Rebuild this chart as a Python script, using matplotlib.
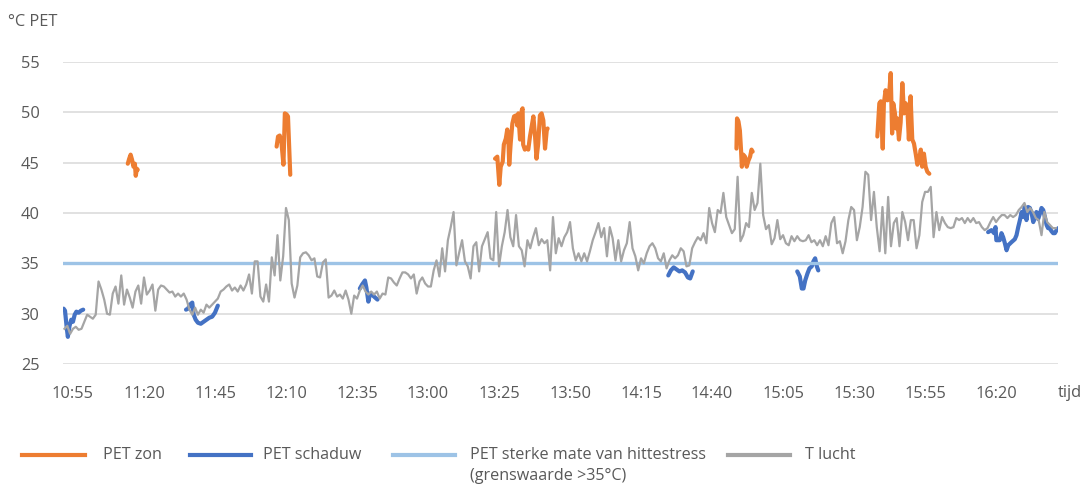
import numpy as np
import matplotlib
matplotlib.use('Agg')
import matplotlib.pyplot as plt
from matplotlib.lines import Line2D

plt.rcParams['font.family'] = ['Open Sans', 'DejaVu Sans']

# tijd in minuten na 10:55
tijd_labels = ['10:55', '11:20', '11:45', '12:10', '12:35', '13:00', '13:25',
               '13:50', '14:15', '14:40', '15:05', '15:30', '15:55', '16:20']
tijd_ticks = [0, 25, 50, 75, 100, 125, 150, 175, 200, 225, 250, 275, 300, 325]

grenswaarde = 35

# T lucht, een waarde per minuut vanaf 10:52
t_lucht = [
    28.5, 28.8, 28.0, 28.5, 28.7, 28.4, 28.5, 29.2, 29.9, 29.7, 29.5, 29.9, 33.2,
    32.4, 31.4, 30.0, 29.9, 32.0, 32.7, 31.0, 33.8, 30.9, 32.4,
    31.6, 30.6, 32.2, 32.8, 31.0, 33.6, 31.9, 32.3, 32.9, 30.3,
    32.4, 32.8, 32.7, 32.4, 32.1, 32.2, 31.7, 32.0, 31.7, 32.0,
    31.4, 30.4, 29.9, 30.6, 29.9, 30.4, 30.1, 30.9, 30.6, 30.9,
    31.2, 31.5, 32.2, 32.4, 32.7, 32.9, 32.3, 32.6, 32.2, 32.8,
    32.3, 32.9, 33.9, 32.0, 35.2, 35.2, 31.7, 31.2, 32.9, 31.2,
    35.6, 33.8, 37.8, 33.3, 35.7, 40.5, 39.3, 33.0, 31.6, 32.8,
    35.6, 36.0, 36.1, 35.8, 35.3, 35.5, 33.7, 33.6, 35.1, 35.4,
    31.6, 31.8, 32.3, 31.7, 31.9, 31.5, 32.3, 31.4, 30.0, 31.8,
    31.5, 32.3, 32.8, 32.2, 31.9, 32.2, 31.9, 32.2, 31.5, 32.0,
    31.9, 33.6, 33.5, 33.1, 32.8, 33.5, 34.1, 34.1, 33.9, 33.5,
    33.9, 32.0, 33.2, 33.6, 33.0, 32.7, 32.7, 34.3, 35.3, 33.7,
    36.5, 34.2, 37.3, 38.6, 40.1, 34.8, 36.1, 37.3, 35.2, 34.7,
    33.5, 36.7, 37.1, 34.2, 36.7, 37.4, 38.1, 35.5, 35.3, 40.1,
    34.7, 36.7, 38.1, 40.3, 37.6, 36.7, 39.8, 36.7, 36.3, 34.7,
    37.3, 36.5, 37.6, 38.5, 36.8, 37.4, 37.0, 37.3, 34.3, 39.6,
    36.0, 37.5, 36.7, 37.6, 38.1, 39.1, 36.5, 35.3, 36.0, 35.2,
    36.0, 35.2, 36.2, 37.3, 38.1, 39.0, 37.6, 38.5, 35.7, 38.6,
    37.5, 35.3, 37.3, 35.2, 36.3, 37.0, 39.1, 36.5, 35.7, 34.3,
    35.5, 35.0, 36.0, 36.7, 37.0, 36.5, 35.5, 35.2, 36.0, 34.5,
    35.3, 35.8, 35.5, 35.8, 36.5, 36.2, 34.7, 34.8, 36.5, 37.1,
    37.6, 37.3, 38.0, 37.0, 40.5, 39.0, 38.1, 40.3, 40.0, 42.0,
    39.6, 38.8, 38.0, 38.4, 43.6, 37.2, 37.8, 39.0, 38.6, 42.0,
    40.3, 41.0, 44.9, 39.8, 38.4, 38.8, 36.9, 37.5, 39.3, 37.4,
    37.8, 37.0, 36.8, 37.7, 37.2, 37.7, 37.3, 37.2, 37.3, 37.8,
    37.1, 37.3, 36.8, 37.3, 36.7, 37.7, 36.8, 39.0, 39.6, 37.0,
    37.2, 36.0, 37.2, 39.3, 40.6, 40.3, 37.3, 38.6, 40.6, 44.1,
    43.8, 39.3, 42.1, 38.6, 36.2, 40.6, 36.0, 41.6,
    36.7, 39.0, 39.5, 36.7, 40.1, 39.1, 37.3, 39.3, 39.3, 36.5, 37.8, 41.1,
    42.1, 42.1, 42.6, 37.6, 40.1, 38.3, 39.6, 39.0, 38.6, 38.5,
    38.6, 39.5, 39.3, 39.5, 39.0, 39.5, 39.1, 39.5, 39.0, 39.1,
    38.6, 38.3, 38.5, 39.1, 39.6, 39.1, 39.5, 39.8, 39.8, 39.5,
    39.8, 39.6, 39.8, 40.3, 40.6, 41.0, 40.1, 40.5, 40.1, 39.5,
    39.3, 37.8, 40.1, 39.1, 38.8, 38.5, 38.5,
]
t_lucht_tijd = np.arange(-3, -3 + len(t_lucht))

# PET zon, losse metingen (tijd in minuten na 10:55)
pet_zon_tijd = [
    [19.3, 19.8, 20.3, 20.8, 21.3, 21.8, 22.1, 22.5, 22.8],
    [71.7, 72.2, 72.8, 73.4, 74.1, 74.6, 75.2, 75.7, 76.5],
    [148.6, 149.4, 150.1, 150.6, 151.3, 151.7, 152.4, 152.9, 153.3, 153.6, 154.1,
     154.7, 155.3, 156.0, 156.4, 156.8, 157.4, 158.0, 158.3, 158.5, 159.1, 159.7,
     160.3, 160.9, 161.5, 162.1, 162.7, 163.2, 163.8, 164.4, 165.0, 165.6, 166.2,
     166.8, 167.1],
    [233.6, 233.8, 234.3, 234.8, 235.2, 235.5, 236.0, 236.6, 237.2, 237.8, 238.4,
     238.9, 239.3],
    [283.2, 283.9, 284.4, 285.1, 285.5, 286.1, 286.8, 287.4, 287.9, 288.4, 288.8,
     289.4, 289.8, 290.2, 290.8, 291.4, 292.0, 292.6, 293.2, 293.8, 294.3, 294.9,
     295.5, 296.1, 296.7, 297.3, 297.9, 298.5, 299.0, 299.6, 300.2, 300.8, 301.5],
]
pet_zon = [
    [44.9, 45.4, 45.8, 45.3, 44.6, 44.9, 43.7, 44.4, 44.3],
    [46.6, 47.6, 47.7, 47.0, 44.8, 49.9, 49.8, 49.6, 43.8],
    [45.4, 45.6, 42.8, 44.6, 45.1, 46.8, 47.4, 48.3, 47.3, 44.8, 46.9,
     48.9, 49.6, 49.7, 48.7, 49.9, 47.3, 50.2, 50.4, 46.8, 46.3, 46.5,
     46.3, 47.6, 48.6, 49.6, 47.6, 45.4, 46.9, 49.7, 49.9, 49.2, 46.4,
     48.2, 48.4],
    [46.4, 49.4, 49.1, 48.2, 46.3, 44.6, 45.8, 45.6, 44.6, 45.2, 45.6,
     46.3, 46.1],
    [47.6, 50.9, 51.1, 46.4, 50.9, 52.2, 51.2, 52.0, 53.9, 47.9, 50.9,
     49.9, 48.4, 49.4, 47.3, 49.0, 52.9, 49.9, 50.9, 50.2, 47.3, 51.6,
     47.3, 46.9, 45.9, 44.8, 45.3, 46.3, 44.6, 45.9, 44.6, 44.1, 43.9],
]

# PET schaduw
pet_schaduw_tijd = [
    [-3.3, -2.8, -2.2, -1.8, -1.2, -0.6, 0.0, 0.6, 1.2, 2.0, 2.8, 3.6],
    [39.8, 40.5, 41.2, 42.0, 42.5, 43.2, 44.0, 45.0, 46.0, 47.0, 48.0, 49.0, 50.0, 51.0],
    [101.0, 101.8, 102.8, 103.3, 104.0, 104.6, 105.2, 106.0, 107.2],
    [209.6, 210.5, 211.5, 212.5, 213.5, 214.5, 215.5, 216.5, 217.3, 218.2],
    [255.0, 255.9, 256.6, 257.2, 257.8, 258.6, 259.3, 260.1, 260.7, 261.3, 261.9, 262.4],
    [322.2, 323.4, 324.3, 324.8, 325.1, 326.3, 326.9, 327.5, 328.1, 328.7, 329.3,
     330.4, 331.6, 332.2, 332.8, 333.4, 334.0, 334.5, 335.1, 335.7, 336.3, 336.9,
     337.5, 338.1, 338.6, 339.2, 339.8, 340.4, 341.0, 341.6, 342.2, 342.8, 343.3,
     343.9, 344.5, 345.1, 345.7, 346.3, 346.9],
]
pet_schaduw = [
    [30.5, 30.3, 28.6, 27.7, 28.8, 29.4, 29.2, 29.9, 30.2, 30.1, 30.3, 30.4],
    [30.4, 30.5, 30.9, 31.1, 29.9, 29.4, 29.1, 29.0, 29.2, 29.4, 29.6, 29.7, 30.1, 30.8],
    [32.5, 32.9, 33.3, 32.6, 31.2, 32.0, 31.9, 31.7, 31.4],
    [33.8, 34.3, 34.6, 34.4, 34.2, 34.3, 34.1, 33.6, 33.5, 34.2],
    [34.2, 33.7, 32.5, 32.5, 33.3, 34.0, 34.5, 34.7, 35.2, 35.5, 34.7, 34.3],
    [38.1, 38.3, 38.0, 38.6, 37.3, 37.3, 38.0, 37.6, 37.0, 36.3, 36.8,
     37.1, 37.4, 37.8, 38.6, 39.3, 40.1, 39.6, 40.6, 39.3, 40.6, 40.5,
     40.0, 39.1, 39.6, 40.1, 39.4, 39.9, 40.5, 40.3, 39.6, 38.8, 38.5,
     38.5, 38.2, 38.0, 38.0, 38.3, 38.5],
]

ORANJE = '#ED7D31'
BLAUW = '#4472C4'
LICHTBLAUW = '#9DC3E6'
GRIJS = '#A5A5A5'
TEKST = '#595959'


def teken_grafiek():
    fig = plt.figure(figsize=(10.83, 4.90), dpi=100)
    ax = fig.add_axes([0.0582, 0.2571, 0.9187, 0.6163])

    for tt, vv in zip(pet_zon_tijd, pet_zon):
        ax.plot(tt, vv, color=ORANJE, lw=3.0, solid_capstyle='round', zorder=3)
    for tt, vv in zip(pet_schaduw_tijd, pet_schaduw):
        ax.plot(tt, vv, color=BLAUW, lw=3.0, solid_capstyle='round', zorder=4)
    ax.axhline(grenswaarde, color=LICHTBLAUW, lw=2.4, zorder=5)
    ax.plot(t_lucht_tijd, t_lucht, color=GRIJS, lw=1.6, zorder=6)

    ax.set_xlim(-3.5, 346.8)
    ax.set_ylim(25, 55)
    ax.set_yticks([25, 30, 35, 40, 45, 50, 55])
    ax.set_xticks(tijd_ticks)
    ax.set_xticklabels(tijd_labels)
    ax.tick_params(length=0, labelsize=11.8, labelcolor=TEKST)
    ax.tick_params(axis='y', pad=17)
    ax.tick_params(axis='x', pad=16)
    ax.grid(axis='y', color='#D9D9D9', lw=1.1)
    ax.set_axisbelow(True)
    for s in ax.spines.values():
        s.set_visible(False)

    fig.text(8 / 1083, 1 - 22 / 490, '°C PET', fontsize=11.8, color=TEKST,
             ha='left', va='center')
    fig.text(1058 / 1083, 1 - 397 / 490, 'tijd', fontsize=11.8, color=TEKST,
             ha='left', va='baseline')

    # legenda
    items = [
        (22, 85, 103, ORANJE, 'PET zon'),
        (190, 251, 263, BLAUW, 'PET schaduw'),
        (393, 455, 470, LICHTBLAUW, 'PET sterke mate van hittestress\n(grenswaarde >35°C)'),
        (728, 790, 805, GRIJS, 'T lucht'),
    ]
    y_leg = 1 - 455 / 490
    for x0, x1, xt, kleur, label in items:
        fig.add_artist(Line2D([x0 / 1083, x1 / 1083], [y_leg, y_leg],
                              transform=fig.transFigure, color=kleur, lw=3.0))
        fig.text(xt / 1083, 1 - 447 / 490, label, fontsize=11.6, color=TEKST,
                 ha='left', va='top', linespacing=1.45)

    fig.savefig('out.png', dpi=100)


if __name__ == "__main__":
    teken_grafiek()
